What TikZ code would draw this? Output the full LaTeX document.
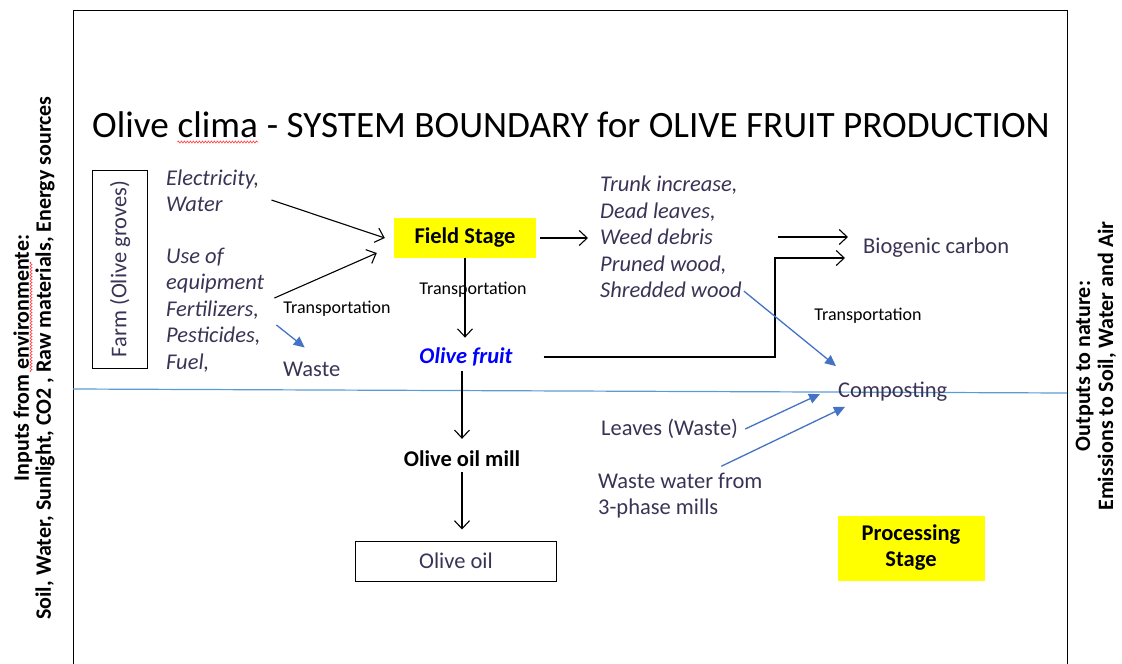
\documentclass[tikz,border=0pt]{standalone}
\usepackage{fontspec}
\setmainfont{Carlito}
\usetikzlibrary{arrows.meta,positioning,decorations.pathmorphing}
\definecolor{txtc}{HTML}{3B3356}
\definecolor{bluec}{HTML}{4472C4}
\definecolor{linec}{HTML}{5B9BD5}
\definecolor{ylw}{HTML}{FFFF00}

\begin{document}
\begin{tikzpicture}[x=1pt, y=-1pt, inner sep=0pt, font=\fontsize{22.5}{26}\selectfont]
    \tikzset{
      txt/.style={text=txtc, align=left, anchor=west},
      itl/.style={txt, font=\fontsize{22.5}{26.5}\selectfont\itshape},
      trn/.style={font=\fontsize{18}{21}\selectfont},
      ybox/.style={fill=ylw, align=center, font=\fontsize{22.5}{26}\selectfont\bfseries},
      wbox/.style={draw, line width=1pt, text=txtc},
      blk/.style={draw, line width=1.1pt, -{Straight Barb[length=8pt,width=15pt]}},
      blu/.style={draw=bluec, line width=1.3pt, -{Triangle[length=11pt,width=10pt]}},
      side/.style={rotate=90, align=center, font=\fontsize{22}{22}\selectfont\bfseries},
      ttl/.style={anchor=base west, font=\fontsize{37.2}{44}\selectfont},
      spell/.style={draw=red!80, line width=0.6pt, decorate,
                    decoration={snake, amplitude=1pt, segment length=3pt}},
    }
    \useasboundingbox (0,0) rectangle (1122,664);

    % frame and boundary line
    \draw[line width=1pt] (73,664) -- (73,10) -- (1067,10) -- (1067,664);
    \draw[linec, line width=1.2pt] (73,389) -- (1067,393);

    % title
    \node[ttl] (ttl1) at (92,137) {Olive};
    \node[ttl] (ttl2) at ([xshift=8.4pt]ttl1.base east) {clima};
    \node[ttl] (ttl3) at ([xshift=8.4pt]ttl2.base east) {- SYSTEM BOUNDARY for OLIVE FRUIT PRODUCTION};
    \draw[spell] ([yshift=-5pt]ttl2.base west) -- ([yshift=-5pt]ttl2.base east);

    % side labels
    \node[side] (inp) at (34,358) {Inputs from environmente:\\Soil, Water, Sunlight, CO2 , Raw materials, Energy sources};
    \draw[spell] (31,372) -- (31,262);
    \node[side, font=\fontsize{22}{23}\selectfont\bfseries] (outp) at (1096,366) {Outputs to nature:\\Emissions to Soil, Water and Air};

    % field stage
    \node[wbox, rotate=90, minimum width=198pt, minimum height=55pt] (farm) at (120,269) {Farm (Olive groves)};
    \node[itl] (elec) at (166,191) {Electricity,\\Water};
    \node[itl] (use) at (166,310) {Use of\\equipment\\Fertilizers,\\Pesticides,\\Fuel,};
    \node[trn] (tr1) at (337,309) {Transportation};
    \node[txt] (waste) at (283,369) {Waste};
    \node[ybox, minimum width=142pt, minimum height=40pt] (field) at (465,238) {Field Stage};
    \node[itl] (trunk) at (600,237) {Trunk increase,\\Dead leaves,\\Weed debris\\Pruned wood,\\Shredded wood};
    \node[trn] (tr2) at (473,290) {Transportation};
    \node[text=blue, font=\fontsize{22.5}{26}\selectfont\bfseries\itshape] (fruit) at (466,357) {Olive fruit};
    \node[txt] (bio) at (863,248) {Biogenic carbon};
    \node[trn] (tr3) at (868,316) {Transportation};

    % processing stage
    \node[txt] (comp) at (838,392) {Composting};
    \node[txt] (leaves) at (601,429) {Leaves (Waste)};
    \node[txt] (ww) at (598,496) {Waste water from\\3-phase mills};
    \node[font=\fontsize{22.5}{26}\selectfont\bfseries] (mill) at (462,459) {Olive oil mill};
    \node[wbox, minimum width=201pt, minimum height=40pt] (oil) at (456,561) {Olive oil};
    \node[ybox, minimum width=147pt, minimum height=65pt] (proc) at (911,548) {Processing\\Stage};

    % arrows
    \coordinate (jct) at (775,258);
    \draw[blk] ([xshift=12pt,yshift=-9pt]elec.east) -- ([xshift=-9pt]field.west);
    \draw[blk] ([xshift=10pt,yshift=12pt]use.east) -- ([xshift=-17pt,yshift=-15pt]field.west);
    \draw[blu] ([xshift=12pt,yshift=-15pt]use.east) -- ([xshift=-7pt,yshift=14pt]waste.north);
    \draw[blk] ([xshift=4pt]field.east) -- ([xshift=-12pt]trunk.west |- field.east);
    \draw[blk] (field.south) -- ([yshift=10pt]field.south |- fruit.north);
    \draw[blk] ([xshift=31pt]fruit.east) -| (jct) -- ([xshift=-18pt]bio.west |- jct);
    \draw[blk] ([xshift=-85pt,yshift=11pt]bio.west) -- ([xshift=-15pt,yshift=11pt]bio.west);
    \draw[blu] ([xshift=2pt,yshift=7pt]trunk.south east) -- ([xshift=-2pt,yshift=16pt]comp.north west);
    \draw[blu] ([xshift=7pt]leaves.east) -- ([xshift=-18pt,yshift=-2pt]comp.west);
    \draw[blu] ([xshift=41pt,yshift=7pt]ww.north) -- ([xshift=7pt,yshift=-5pt]comp.south west);
    \draw[blk] ([yshift=-5pt]mill.north |- fruit.south) -- ([yshift=12pt]mill.north);
    \draw[blk] ([yshift=-5pt]mill.south) -- ([yshift=11pt]mill.south |- oil.north);
\end{tikzpicture}
\end{document}
